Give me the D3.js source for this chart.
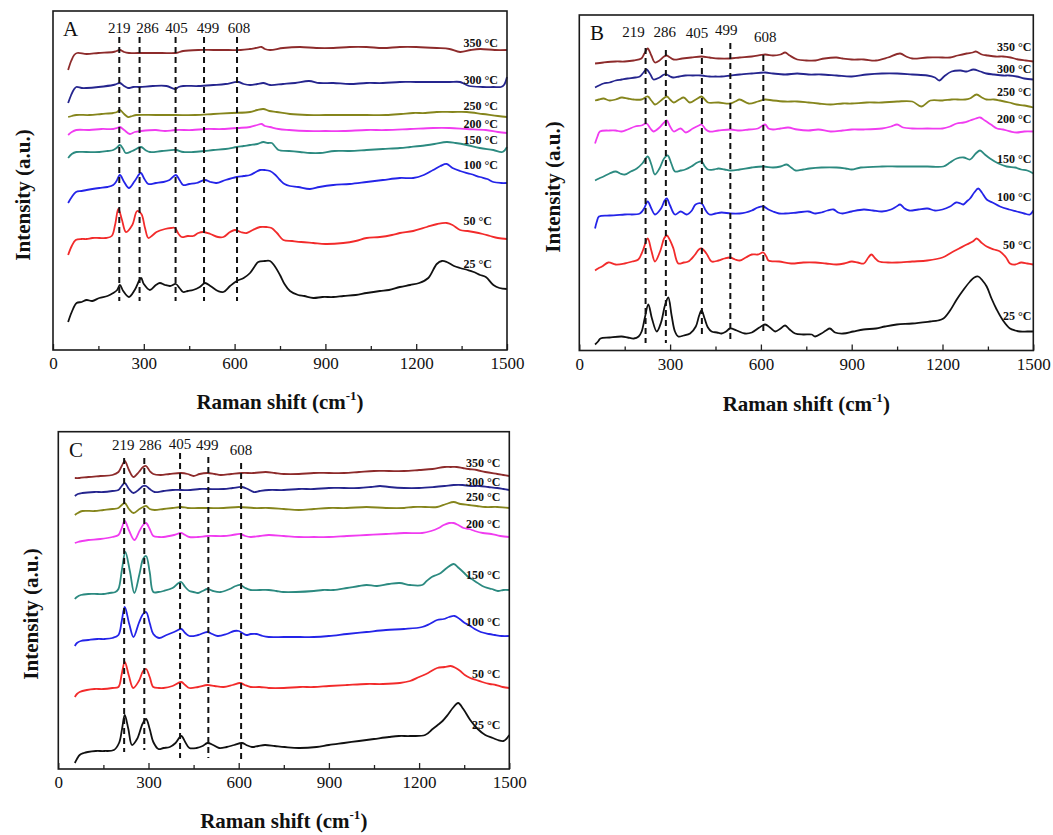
<!DOCTYPE html>
<html>
<head>
<meta charset="utf-8">
<script src="https://cdn.jsdelivr.net/npm/d3@7"></script>
<style>
  html, body { margin: 0; padding: 0; background: #fff; }
  svg { display: block; font-family: "Liberation Serif", "Times New Roman", serif; }
</style>
</head>
<body>
<svg id="chart" width="1053" height="835"></svg>
<script>
// ---------- shared axis / marker data ----------
const xTicks = [0, 300, 600, 900, 1200, 1500];
const xMinorTicks = [150, 450, 750, 1050, 1350];
const peakShifts = [219, 286, 405, 499, 608];
const temperatures = ["25 °C", "50 °C", "100 °C", "150 °C", "200 °C", "250 °C", "300 °C", "350 °C"];
const seriesColors = ["#111111", "#f22b2b", "#2424e8", "#2c8a80", "#f03cf0", "#85851c", "#25258e", "#8d2b2b"];

// ---------- panel A spectra: [Raman shift (cm-1), stacked intensity (a.u.)] ----------
const A_25 = [[50,28],[62,38],[78,47],[95,48],[111,50],[130,49],[153,52],[180,54],[199,57],[212,60],[221,65],[232,59],[251,53],[270,60],[291,72],[300,66],[320,60],[340,65],[353,67],[370,65],[387,64],[406,66],[418,62],[430,58],[445,59],[463,60],[485,63],[502,67],[520,64],[545,59],[563,58],[585,64],[607,69],[630,72],[651,77],[665,83],[678,88],[700,89],[717,89],[730,85],[750,75],[765,66],[783,59],[810,55],[830,54],[860,52],[890,53],[926,53],[960,54],[1000,55],[1036,57],[1080,59],[1110,60],[1146,63],[1180,65],[1210,67],[1240,72],[1268,86],[1285,89],[1301,88],[1325,84],[1345,82],[1370,80],[1390,78],[1411,75],[1430,73],[1455,65],[1475,62],[1500,61]];
const A_50 = [[50,95],[62,104],[75,110],[95,111],[111,111],[130,112],[153,112],[175,112],[194,114],[205,125],[216,141],[228,130],[241,118],[262,125],[278,139],[292,136],[304,122],[315,112],[330,115],[342,118],[370,121],[390,122],[403,122],[415,116],[425,113],[445,114],[463,114],[480,117],[497,118],[520,116],[545,113],[563,113],[585,118],[601,120],[620,118],[640,117],[660,120],[684,123],[705,123],[722,122],[740,117],[761,110],[790,109],[820,108],[860,107],[900,106],[959,107],[1000,109],[1036,112],[1080,113],[1120,115],[1146,117],[1190,119],[1235,123],[1270,126],[1301,127],[1320,125],[1345,120],[1370,119],[1389,118],[1420,116],[1444,114],[1470,112],[1500,111]];
const A_100 = [[50,147],[62,153],[76,158],[95,159],[111,160],[130,161],[153,162],[180,163],[199,165],[210,169],[221,175],[235,168],[251,162],[270,169],[290,177],[302,171],[315,166],[340,167],[365,168],[385,170],[406,175],[418,170],[430,165],[450,166],[474,167],[502,170],[520,168],[540,167],[570,170],[607,173],[630,174],[651,175],[670,178],[684,180],[700,180],[717,179],[735,175],[750,170],[765,166],[783,164],[810,163],[849,161],[880,163],[926,165],[980,166],[1036,168],[1090,170],[1146,172],[1190,172],[1225,175],[1256,180],[1280,184],[1301,186],[1320,182],[1345,179],[1380,176],[1411,173],[1435,171],[1455,168],[1480,167],[1500,167]];
const A_150 = [[50,192],[62,196],[77,198],[110,198],[153,198],[180,199],[199,200],[210,202],[221,205],[232,201],[240,197],[262,199],[291,203],[305,200],[320,198],[360,199],[406,200],[430,198],[463,198],[500,199],[530,200],[570,201],[607,203],[630,204],[651,205],[675,206],[695,208],[710,207],[723,207],[735,203],[745,200],[780,199],[816,198],[850,197],[882,197],[930,199],[980,199],[1036,200],[1090,201],[1146,202],[1180,203],[1213,204],[1260,206],[1301,208],[1330,207],[1367,205],[1410,202],[1455,200],[1485,198],[1500,203]];
const A_200 = [[50,215],[62,218],[77,220],[120,220],[160,221],[199,221],[212,222],[221,223],[235,220],[254,216],[270,218],[291,219],[340,220],[370,219],[405,220],[460,220],[505,221],[560,221],[610,222],[651,223],[675,225],[689,226],[700,224],[717,223],[745,221],[780,220],[840,219],[900,219],[960,219],[1036,220],[1100,220],[1180,221],[1256,222],[1310,222],[1367,221],[1430,220],[1470,218],[1500,217]];
const A_250 = [[50,233],[62,234],[77,235],[120,235],[160,236],[199,237],[212,238],[221,240],[235,236],[248,233],[262,234],[275,235],[340,235],[405,235],[470,235],[530,236],[590,237],[651,238],[675,240],[695,241],[715,239],[739,238],[783,236],[840,235],[900,235],[960,235],[1036,235],[1100,235],[1150,236],[1190,237],[1230,237],[1268,238],[1320,238],[1367,238],[1420,236],[1470,234],[1500,233]];
const A_300 = [[50,247],[60,255],[70,261],[77,263],[95,262],[111,262],[150,263],[199,265],[210,266],[221,267],[235,264],[248,262],[265,263],[287,263],[330,264],[375,264],[403,261],[415,263],[430,264],[480,264],[530,265],[570,266],[612,268],[630,266],[651,265],[675,266],[695,267],[717,265],[760,266],[800,267],[846,269],[880,267],[926,267],[980,266],[1036,267],[1090,267],[1146,268],[1200,268],[1268,268],[1310,268],[1345,268],[1360,266],[1375,264],[1420,263],[1455,263],[1480,263],[1490,265],[1500,273]];
const A_350 = [[50,280],[60,289],[70,295],[80,297],[111,296],[150,297],[199,298],[210,299],[221,300],[235,298],[251,297],[280,297],[320,297],[360,297],[405,297],[418,298],[430,299],[480,300],[530,300],[580,300],[620,300],[650,301],[670,302],[689,303],[700,301],[717,300],[760,302],[816,303],[870,302],[926,302],[980,303],[1036,303],[1090,302],[1146,303],[1200,303],[1268,302],[1310,301],[1345,298],[1380,300],[1411,301],[1460,300],[1500,300]];

// ---------- panel B spectra ----------
const B_25 = [[52,6],[62,9],[70,12],[100,13],[140,14],[160,13],[180,12],[196,14],[206,19],[216,32],[228,46],[240,32],[256,19],[270,28],[283,45],[294,53],[305,35],[316,19],[327,14],[345,15],[366,17],[385,24],[396,35],[404,40],[414,32],[425,23],[437,19],[455,18],[470,17],[485,19],[498,22],[520,20],[547,17],[570,18],[595,23],[614,26],[630,23],[647,19],[665,22],[680,25],[695,21],[713,17],[740,16],[768,16],[779,14],[800,17],[815,20],[828,22],[845,18],[872,17],[905,19],[939,21],[980,22],[1010,24],[1049,26],[1100,27],[1159,29],[1185,30],[1203,32],[1225,40],[1247,51],[1270,61],[1291,69],[1305,73],[1318,74],[1332,70],[1346,64],[1362,52],[1379,41],[1400,30],[1423,22],[1440,20],[1456,19],[1480,19],[1500,19]];
const B_50 = [[52,80],[62,82],[75,84],[96,88],[120,86],[150,87],[175,89],[195,91],[210,100],[226,112],[238,100],[250,89],[268,100],[280,112],[289,115],[300,110],[311,102],[327,87],[345,88],[360,89],[380,95],[395,101],[404,102],[420,97],[437,89],[460,90],[480,92],[498,93],[515,91],[530,90],[550,93],[570,96],[590,96],[608,98],[618,94],[625,90],[660,89],[700,87],[740,88],[780,88],[815,87],[850,86],[875,87],[900,89],[920,88],[940,87],[955,93],[965,96],[978,92],[990,89],[1020,88],[1050,88],[1100,89],[1150,90],[1200,93],[1230,98],[1255,102],[1280,106],[1300,109],[1313,112],[1328,108],[1346,104],[1370,101],[1390,99],[1410,93],[1423,87],[1440,86],[1460,88],[1480,87],[1500,86]];
const B_100 = [[52,122],[58,129],[65,134],[100,135],[150,136],[200,137],[214,142],[226,149],[238,142],[250,136],[270,142],[282,150],[289,152],[300,145],[316,136],[335,139],[355,136],[372,140],[384,146],[404,147],[418,140],[430,136],[450,137],[470,138],[500,137],[530,137],[550,138],[570,140],[590,143],[608,144],[625,141],[640,139],[660,137],[680,137],[720,138],[757,139],[780,137],[800,138],[820,140],[840,141],[855,138],[870,137],[900,139],[940,141],[970,140],[1000,139],[1030,141],[1048,144],[1060,146],[1075,142],[1090,140],[1120,141],[1150,142],[1175,140],[1200,141],[1225,144],[1245,148],[1260,147],[1269,146],[1280,149],[1291,152],[1305,158],[1318,162],[1330,158],[1346,151],[1365,148],[1390,144],[1420,141],[1445,139],[1470,137],[1489,136],[1500,140]];
const B_150 = [[52,170],[65,172],[80,174],[100,177],[120,179],[135,177],[150,176],[170,179],[190,182],[208,187],[226,194],[238,186],[250,176],[265,182],[280,192],[292,195],[304,187],[316,179],[335,180],[350,181],[370,184],[390,188],[404,189],[415,184],[425,181],[445,181],[460,182],[480,181],[500,180],[530,181],[570,183],[608,184],[640,183],[665,184],[685,186],[700,183],[715,180],[740,181],[760,182],[800,183],[850,183],[880,182],[900,181],[930,183],[1000,184],[1050,184],[1100,184],[1150,184],[1203,184],[1225,188],[1247,192],[1270,193],[1291,191],[1310,197],[1324,200],[1340,196],[1357,192],[1385,187],[1412,184],[1440,183],[1460,181],[1480,180],[1500,177]];
const B_200 = [[52,207],[60,214],[68,219],[100,220],[120,220],[140,219],[160,221],[184,224],[205,225],[222,227],[235,222],[245,219],[265,223],[280,228],[289,230],[300,224],[312,219],[335,222],[352,218],[375,222],[395,225],[404,226],[418,221],[430,219],[460,220],[500,221],[530,220],[560,221],[590,222],[614,226],[625,222],[640,221],[665,222],[690,223],[720,221],[757,220],[790,221],[830,219],[870,220],[900,221],[940,221],[1000,222],[1030,224],[1050,226],[1070,223],[1100,222],[1150,222],[1200,222],[1225,224],[1247,227],[1270,228],[1291,230],[1310,232],[1324,233],[1340,230],[1360,226],[1380,222],[1400,221],[1425,219],[1445,218],[1470,219],[1500,219]];
const B_250 = [[52,250],[65,251],[80,252],[100,250],[120,251],[140,253],[160,252],[180,251],[205,251],[226,254],[238,250],[250,246],[270,250],[289,254],[300,251],[312,248],[330,251],[345,253],[365,248],[385,251],[404,254],[415,251],[425,248],[460,248],[498,247],[515,249],[530,251],[560,247],[590,249],[614,251],[640,250],[680,249],[720,249],[757,248],[790,247],[830,246],[870,247],[900,247],[950,248],[1000,248],[1050,249],[1100,249],[1130,244],[1160,250],[1200,250],[1230,251],[1250,251],[1275,251],[1290,252],[1313,256],[1330,253],[1345,251],[1370,251],[1390,250],[1420,248],[1445,246],[1470,245],[1500,243]];
const B_300 = [[52,263],[65,265],[80,267],[100,268],[120,270],[140,271],[160,272],[185,273],[200,274],[212,278],[222,281],[235,276],[245,271],[265,273],[280,276],[289,276],[300,274],[310,273],[330,274],[350,275],[375,275],[404,275],[430,274],[450,274],[470,274],[500,275],[530,276],[570,277],[614,278],[640,277],[680,276],[720,277],[757,276],[800,276],[850,275],[900,274],[950,276],[1000,277],[1050,277],[1100,276],[1150,275],[1175,273],[1190,270],[1205,274],[1230,279],[1260,280],[1280,279],[1302,281],[1325,279],[1345,277],[1370,276],[1400,275],[1420,275],[1445,274],[1470,272],[1500,271]];
const B_350 = [[52,287],[80,288],[120,289],[150,289],[180,290],[205,292],[215,297],[226,302],[238,295],[250,288],[265,290],[280,294],[289,295],[300,293],[312,291],[340,292],[370,293],[404,294],[430,293],[460,292],[498,292],[530,293],[570,294],[614,296],[640,295],[665,296],[680,298],[695,295],[720,291],[750,290],[780,290],[810,292],[850,293],[870,292],[900,291],[940,291],[980,290],[1020,293],[1060,297],[1080,294],[1100,292],[1150,293],[1200,293],[1225,293],[1250,295],[1280,297],[1300,298],[1310,299],[1330,296],[1350,295],[1375,294],[1400,294],[1425,293],[1450,291],[1475,290],[1500,289]];

// ---------- panel C spectra ----------
const C_25 = [[55,6],[62,10],[71,14],[85,16],[98,17],[125,18],[153,18],[185,19],[202,26],[212,40],[221,54],[233,40],[245,24],[262,30],[280,45],[292,50],[304,40],[316,27],[333,20],[350,21],[371,22],[390,26],[409,33],[422,27],[436,21],[460,21],[480,23],[496,26],[515,24],[535,21],[560,22],[585,24],[611,26],[625,24],[644,22],[665,23],[687,24],[720,23],[753,22],[800,21],[859,22],[900,24],[950,26],[1000,28],[1050,30],[1100,32],[1133,33],[1170,33],[1220,34],[1245,40],[1262,44],[1278,48],[1295,54],[1312,61],[1330,66],[1347,60],[1370,49],[1395,40],[1420,34],[1445,31],[1462,29],[1480,28],[1490,30],[1500,34]];
const C_50 = [[55,72],[62,75],[71,77],[95,79],[120,80],[150,80],[180,81],[200,82],[211,95],[221,107],[235,93],[249,81],[268,88],[282,98],[292,100],[304,92],[316,82],[335,81],[350,81],[380,83],[409,87],[422,84],[436,81],[465,82],[496,84],[520,83],[550,82],[580,84],[605,86],[620,84],[640,82],[670,82],[700,81],[750,81],[804,82],[850,82],[900,83],[960,84],[1025,85],[1080,85],[1136,86],[1170,88],[1200,92],[1230,96],[1260,101],[1285,102],[1305,103],[1322,101],[1337,98],[1352,94],[1370,91],[1390,89],[1410,87],[1435,85],[1455,84],[1478,82],[1500,81]];
const C_100 = [[55,123],[62,126],[75,128],[100,129],[130,130],[155,130],[180,131],[200,134],[211,148],[221,162],[236,145],[250,132],[268,146],[282,155],[292,157],[304,146],[316,135],[335,131],[360,134],[385,137],[409,140],[422,136],[436,133],[465,134],[496,137],[512,135],[530,133],[560,135],[585,138],[600,138],[612,136],[625,134],[640,135],[660,135],[680,133],[700,132],[750,132],[804,132],[850,132],[900,133],[960,135],[1025,137],[1090,139],[1150,140],[1210,142],[1235,145],[1260,149],[1282,150],[1300,152],[1318,153],[1335,150],[1352,146],[1365,144],[1385,140],[1405,137],[1432,135],[1452,134],[1475,133],[1500,133]];
const C_150 = [[55,170],[62,172],[75,174],[100,175],[130,175],[150,175],[170,176],[190,177],[200,180],[212,200],[223,217],[238,198],[253,176],[270,195],[282,210],[292,213],[304,197],[316,177],[333,177],[350,178],[380,181],[400,186],[409,187],[422,182],[436,178],[450,177],[465,176],[480,178],[496,180],[515,178],[540,177],[570,180],[590,183],[605,184],[622,181],[640,179],[670,179],[700,179],[725,178],[748,177],[790,177],[850,178],[880,179],[915,179],[960,181],[1000,183],[1025,184],[1060,183],[1100,185],[1136,186],[1170,184],[1210,184],[1225,188],[1242,192],[1258,194],[1272,196],[1292,201],[1315,205],[1332,201],[1350,196],[1363,192],[1375,190],[1395,186],[1418,182],[1442,180],[1462,178],[1480,179],[1500,179]];
const C_200 = [[55,226],[65,227],[80,228],[100,229],[140,230],[180,232],[200,234],[211,241],[221,248],[236,238],[253,229],[270,238],[282,244],[292,246],[304,240],[316,233],[335,232],[350,232],[385,234],[409,236],[422,234],[436,232],[465,232],[496,233],[550,233],[580,234],[605,235],[622,233],[640,232],[670,233],[700,234],[750,233],[800,232],[850,232],[900,232],[960,233],[1025,234],[1090,235],[1150,236],[1210,236],[1240,238],[1265,241],[1282,244],[1300,246],[1315,246],[1330,244],[1348,241],[1366,240],[1385,238],[1412,236],[1440,235],[1470,233],[1500,232]];
const C_250 = [[55,254],[65,256],[80,258],[120,258],[150,259],[180,260],[200,261],[211,264],[221,266],[235,260],[250,256],[270,260],[282,262],[292,263],[304,260],[320,259],[350,260],[380,261],[409,262],[430,261],[465,261],[500,261],[550,261],[600,262],[650,261],[700,261],[750,260],[800,259],[850,260],[900,261],[960,261],[1025,262],[1090,261],[1150,261],[1180,262],[1220,262],[1260,262],[1290,265],[1315,267],[1338,265],[1365,264],[1392,263],[1420,262],[1460,262],[1500,261]];
const C_300 = [[55,273],[65,275],[80,276],[120,277],[150,277],[180,278],[200,279],[211,283],[221,286],[235,280],[250,276],[270,280],[282,283],[292,283],[304,280],[320,277],[350,278],[380,279],[409,279],[440,279],[470,280],[496,280],[550,280],[580,281],[611,282],[630,280],[650,277],[670,278],[700,279],[750,279],[800,280],[850,280],[900,281],[950,281],[1000,281],[1040,282],[1070,283],[1100,282],[1150,281],[1200,281],[1250,282],[1285,283],[1315,284],[1345,284],[1372,283],[1400,283],[1430,282],[1460,281],[1480,280],[1500,279]];
const C_350 = [[55,291],[70,291],[100,292],[140,293],[180,294],[200,297],[211,303],[221,308],[235,299],[250,292],[268,297],[282,302],[292,303],[304,298],[316,295],[340,294],[370,295],[409,296],[430,295],[450,293],[470,295],[496,296],[520,295],[540,294],[575,295],[611,296],[650,296],[690,297],[720,296],[750,295],[800,295],[850,296],[900,296],[950,296],[1000,297],[1050,298],[1100,298],[1150,298],[1200,299],[1245,300],[1285,302],[1305,302],[1325,302],[1345,301],[1365,300],[1392,299],[1420,297],[1460,295],[1480,294],[1500,293]];

// ---------- layout of the three panels ----------
const panels = [
  {
    letter: "A", letterX: 63, letterY: 36,
    left: 53, top: 11, right: 507, bottom: 350, yMax: 339,
    series: [A_25, A_50, A_100, A_150, A_200, A_250, A_300, A_350],
    tempLabelLevels: [86, 129, 185, 210, 226, 244, 270, 307],
    tempLabelX: 463.5, tempAnchor: "start",
    peakLabelDx: [0, 8, 1, 4, 2], peakLabelY: [33, 33, 33, 33, 33],
    guideTop: [37, 37, 37, 37, 37], guideBottom: [301, 301, 301, 301, 301],
    yTitleX: 22.5, yTitleY: 195, xTitleY: 409
  },
  {
    letter: "B", letterX: 590, letterY: 40,
    left: 579.3, top: 15, right: 1033.3, bottom: 350.5, yMax: 335.5,
    series: [B_25, B_50, B_100, B_150, B_200, B_250, B_300, B_350],
    tempLabelLevels: [35, 106, 154, 192, 232, 259, 282, 304],
    tempLabelX: 1031.5, tempAnchor: "end",
    peakLabelDx: [-12, -1, -5, -4, 2], peakLabelY: [36.7, 36.7, 38.3, 35, 41.7],
    guideTop: [48, 50, 48, 43, 55], guideBottom: [343, 343, 338, 339, 332],
    yTitleX: 552.5, yTitleY: 187, xTitleY: 411
  },
  {
    letter: "C", letterX: 69, letterY: 457,
    left: 58.3, top: 431.7, right: 509.3, bottom: 769, yMax: 337.3,
    series: [C_25, C_50, C_100, C_150, C_200, C_250, C_300, C_350],
    tempLabelLevels: [44, 95, 147, 194, 245, 272, 287, 306],
    tempLabelX: 500.5, tempAnchor: "end",
    peakLabelDx: [-1, 6, 0, -1, 0], peakLabelY: [450, 450, 448.5, 450, 455],
    guideTop: [458, 458, 453, 457, 463], guideBottom: [752, 750, 758, 758, 763],
    yTitleX: 31, yTitleY: 614, xTitleY: 828
  }
];

const svg = d3.select("#chart");

panels.forEach(p => {
  const x = d3.scaleLinear().domain([0, 1500]).range([p.left, p.right]);
  const y = d3.scaleLinear().domain([0, p.yMax]).range([p.bottom, p.top]);
  const g = svg.append("g");

  // inward major and minor ticks on the shift axis
  g.append("g")
    .attr("transform", `translate(0,${p.bottom})`)
    .call(d3.axisBottom(x).tickValues(xTicks).tickSize(-6).tickPadding(7).tickFormat(d3.format("d")))
    .call(a => a.select(".domain").remove())
    .attr("font-family", "'Liberation Serif', 'Times New Roman', serif")
    .attr("font-size", 17)
    .call(a => a.selectAll("line").attr("stroke", "#222").attr("stroke-width", 1.3))
    .call(a => a.selectAll("text").attr("fill", "#111"));

  g.append("g")
    .attr("transform", `translate(0,${p.bottom})`)
    .call(d3.axisBottom(x).tickValues(xMinorTicks).tickSize(-4).tickFormat(""))
    .call(a => a.select(".domain").remove())
    .call(a => a.selectAll("line").attr("stroke", "#222").attr("stroke-width", 1.3));

  // spectra
  const line = d3.line()
    .x(d => x(d[0]))
    .y(d => y(d[1]))
    .curve(d3.curveCatmullRom.alpha(0.5));

  g.append("g")
    .selectAll("path")
    .data(p.series)
    .join("path")
    .attr("d", line)
    .attr("fill", "none")
    .attr("stroke", (d, i) => seriesColors[i])
    .attr("stroke-width", 1.8)
    .attr("stroke-linejoin", "round");

  // dashed peak guides
  g.append("g")
    .selectAll("line")
    .data(peakShifts)
    .join("line")
    .attr("x1", d => x(d)).attr("x2", d => x(d))
    .attr("y1", (d, i) => p.guideTop[i])
    .attr("y2", (d, i) => p.guideBottom[i])
    .attr("stroke", "#111")
    .attr("stroke-width", 2)
    .attr("stroke-dasharray", "6,4");

  // peak position labels
  g.append("g")
    .selectAll("text")
    .data(peakShifts)
    .join("text")
    .attr("x", (d, i) => x(d) + p.peakLabelDx[i])
    .attr("y", (d, i) => p.peakLabelY[i])
    .attr("text-anchor", "middle")
    .attr("font-size", 15)
    .attr("fill", "#111")
    .text(d => d);

  // temperature labels
  g.append("g")
    .selectAll("text")
    .data(temperatures)
    .join("text")
    .attr("x", p.tempLabelX)
    .attr("y", (d, i) => y(p.tempLabelLevels[i]))
    .attr("dy", "0.35em")
    .attr("text-anchor", p.tempAnchor)
    .attr("font-size", 12)
    .attr("font-weight", "bold")
    .attr("fill", "#111")
    .text(d => d);

  // frame
  g.append("rect")
    .attr("x", p.left).attr("y", p.top)
    .attr("width", p.right - p.left).attr("height", p.bottom - p.top)
    .attr("fill", "none")
    .attr("stroke", "#1a1a1a")
    .attr("stroke-width", 1.6);

  // panel letter
  g.append("text")
    .attr("x", p.letterX).attr("y", p.letterY)
    .attr("font-size", 21)
    .attr("fill", "#111")
    .text(p.letter);

  // axis titles
  const xt = g.append("text")
    .attr("x", (p.left + p.right) / 2)
    .attr("y", p.xTitleY)
    .attr("text-anchor", "middle")
    .attr("font-size", 21)
    .attr("font-weight", "bold")
    .attr("fill", "#111");
  xt.append("tspan").text("Raman shift (cm");
  xt.append("tspan").attr("font-size", 13).attr("dy", -9).text("-1");
  xt.append("tspan").attr("dy", 9).text(")");

  g.append("text")
    .attr("transform", `translate(${p.yTitleX},${p.yTitleY}) rotate(-90)`)
    .attr("dy", "0.35em")
    .attr("text-anchor", "middle")
    .attr("font-size", 21)
    .attr("font-weight", "bold")
    .attr("fill", "#111")
    .text("Intensity (a.u.)");
});
</script>
</body>
</html>
